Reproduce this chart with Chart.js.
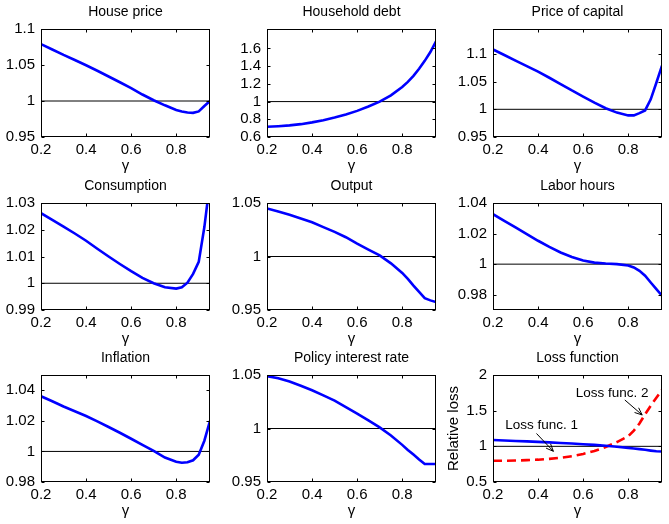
<!DOCTYPE html>
<html>
<head>
<meta charset="utf-8">
<script src="https://cdn.jsdelivr.net/npm/chart.js@4.4.0/dist/chart.umd.min.js"></script>
<style>
  html, body { margin: 0; padding: 0; background: #fff; }
  body { width: 669px; height: 524px; position: relative; overflow: hidden; }
  canvas { position: absolute; }
</style>
</head>
<body>
<script>
// gamma grid (x axis of every panel)
const gamma = [0.2, 0.25, 0.3, 0.35, 0.4, 0.45, 0.5, 0.55, 0.6, 0.65, 0.7, 0.75, 0.8, 0.825, 0.85, 0.875, 0.9, 0.925, 0.95];
const gammaTicks = [0.2, 0.4, 0.6, 0.8];

// relative responses
const housePrice    = [1.079, 1.0715, 1.064, 1.057, 1.0497, 1.042, 1.034, 1.026, 1.018, 1.009, 1.001, 0.994, 0.9875, 0.9855, 0.984, 0.9835, 0.9855, 0.993, 1.0];
const householdDebt = [0.715, 0.722, 0.731, 0.745, 0.765, 0.79, 0.82, 0.855, 0.895, 0.944, 1.0, 1.07, 1.165, 1.222, 1.29, 1.37, 1.46, 1.56, 1.68];
const priceCapital  = [1.108, 1.098, 1.088, 1.078, 1.068, 1.057, 1.0456, 1.034, 1.023, 1.012, 1.002, 0.994, 0.989, 0.989, 0.993, 0.998, 1.018, 1.048, 1.079];
const consumption   = [1.0262, 1.0237, 1.0212, 1.0186, 1.0159, 1.0129, 1.0100, 1.0072, 1.0045, 1.002, 1.0, 0.9985, 0.998, 0.9985, 1.0002, 1.0035, 1.008, 1.021, 1.038];
const output        = [1.0449, 1.042, 1.039, 1.0355, 1.032, 1.0275, 1.023, 1.018, 1.012, 1.0065, 1.001, 0.9936, 0.9846, 0.979, 0.9728, 0.967, 0.961, 0.959, 0.9574];
const laborHours    = [1.0327, 1.0283, 1.024, 1.0196, 1.0153, 1.0113, 1.0076, 1.0047, 1.0024, 1.001, 1.0004, 1.0, 0.9991, 0.9978, 0.9956, 0.9924, 0.988, 0.9837, 0.9793];
const inflation     = [1.0361, 1.0328, 1.0294, 1.0263, 1.0232, 1.0197, 1.016, 1.0122, 1.0083, 1.0043, 1.0004, 0.996, 0.9933, 0.9926, 0.9929, 0.9942, 0.9978, 1.007, 1.02];
const policyRate    = [1.049, 1.047, 1.044, 1.040, 1.0358, 1.031, 1.026, 1.020, 1.014, 1.0075, 1.001, 0.9935, 0.9847, 0.980, 0.9756, 0.971, 0.9668, 0.9668, 0.9668];
const lossFunc1     = [1.088, 1.082, 1.075, 1.069, 1.062, 1.055, 1.047, 1.039, 1.03, 1.02, 1.008, 0.994, 0.978, 0.97, 0.961, 0.951, 0.94, 0.93, 0.927];
const lossFunc2     = [0.797, 0.798, 0.801, 0.806, 0.813, 0.824, 0.84, 0.862, 0.893, 0.935, 0.99, 1.06, 1.14, 1.22, 1.32, 1.45, 1.57, 1.68, 1.79];

// y tick labels per panel
const housePriceTicks = [0.95, 1, 1.05, 1.1];
const debtTicks       = [0.6, 0.8, 1, 1.2, 1.4, 1.6];
const capitalTicks    = [0.95, 1, 1.05, 1.1];
const consTicks       = [0.99, 1, 1.01, 1.02, 1.03];
const outputTicks     = [0.95, 1, 1.05];
const laborTicks      = [0.98, 1, 1.02, 1.04];
const inflTicks       = [0.98, 1, 1.02, 1.04];
const rateTicks       = [0.95, 1, 1.05];
const lossTicks       = [0.5, 1, 1.5, 2];

// layout of the 3x3 grid (plot area corners in page pixels)
const colLeft = [41, 267, 493];
const rowTop = [29, 203, 375];
const rowH = [108, 107, 107];
const PLOT_W = 169;
const Y_AXIS_W = 48;
const X_AXIS_H = 38;
const TITLE_H = 29;
const PAD_R = 8;

const FONT = '"Liberation Sans", Arial, Helvetica, sans-serif';
Chart.defaults.font.family = FONT;
Chart.defaults.color = '#000';

const BLUE = 'rgb(0,0,255)';
const RED = 'rgb(255,0,0)';

const panels = [
  { title: 'House price', series: [housePrice], ticks: housePriceTicks, min: 0.95, max: 1.1, row: 0, col: 0 },
  { title: 'Household debt', series: [householdDebt], ticks: debtTicks, min: 0.6, max: 1.82, row: 0, col: 1 },
  { title: 'Price of capital', series: [priceCapital], ticks: capitalTicks, min: 0.95, max: 1.145, row: 0, col: 2 },
  { title: 'Consumption', series: [consumption], ticks: consTicks, min: 0.99, max: 1.03, row: 1, col: 0 },
  { title: 'Output', series: [output], ticks: outputTicks, min: 0.95, max: 1.05, row: 1, col: 1 },
  { title: 'Labor hours', series: [laborHours], ticks: laborTicks, min: 0.97, max: 1.04, row: 1, col: 2 },
  { title: 'Inflation', series: [inflation], ticks: inflTicks, min: 0.98, max: 1.05, row: 2, col: 0 },
  { title: 'Policy interest rate', series: [policyRate], ticks: rateTicks, min: 0.95, max: 1.05, row: 2, col: 1 },
  { title: 'Loss function', series: [lossFunc1, lossFunc2], ticks: lossTicks, min: 0.5, max: 2, row: 2, col: 2,
    ylabel: 'Relative loss',
    notes: [
      { text: 'Loss func. 1', at: [0.416, 1.29], from: [0.393, 1.18], to: [0.468, 0.93] },
      { text: 'Loss func. 2', at: [0.729, 1.75], from: [0.785, 1.65], to: [0.862, 1.44] }
    ] }
];

function fmt(v) {
  return String(+Number(v).toFixed(3));
}

function boxPlugin(p) {
  return {
    id: 'box',
    afterDatasetsDraw(chart) {
      const ctx = chart.ctx;
      const a = chart.chartArea;
      const xs = chart.scales.x, ys = chart.scales.y;
      const L = Math.round(a.left) + 0.5, R = Math.round(a.right) - 0.5;
      const T = Math.round(a.top) + 0.5, B = Math.round(a.bottom) - 0.5;
      ctx.save();
      ctx.strokeStyle = '#000';
      ctx.lineWidth = 1;
      ctx.strokeRect(L, T, R - L, B - T);
      const t = 3;
      ctx.beginPath();
      xs.ticks.forEach(tk => {
        const px = Math.round(xs.getPixelForValue(tk.value)) + 0.5;
        ctx.moveTo(px, B); ctx.lineTo(px, B - t);
        ctx.moveTo(px, T); ctx.lineTo(px, T + t);
      });
      ys.ticks.forEach(tk => {
        const py = Math.round(ys.getPixelForValue(tk.value)) + 0.5;
        ctx.moveTo(L, py); ctx.lineTo(L + t, py);
        ctx.moveTo(R, py); ctx.lineTo(R - t, py);
      });
      ctx.stroke();

      (p.notes || []).forEach(n => {
        ctx.fillStyle = '#000';
        ctx.font = '13.5px ' + FONT;
        ctx.textAlign = 'center';
        ctx.textBaseline = 'middle';
        ctx.fillText(n.text, xs.getPixelForValue(n.at[0]), ys.getPixelForValue(n.at[1]));
        const x1 = xs.getPixelForValue(n.from[0]), y1 = ys.getPixelForValue(n.from[1]);
        const x2 = xs.getPixelForValue(n.to[0]), y2 = ys.getPixelForValue(n.to[1]);
        ctx.beginPath();
        ctx.moveTo(x1, y1); ctx.lineTo(x2, y2);
        const ang = Math.atan2(y2 - y1, x2 - x1);
        const h = 8;
        ctx.moveTo(x2, y2); ctx.lineTo(x2 - h * Math.cos(ang - 0.4), y2 - h * Math.sin(ang - 0.4));
        ctx.moveTo(x2, y2); ctx.lineTo(x2 - h * Math.cos(ang + 0.4), y2 - h * Math.sin(ang + 0.4));
        ctx.stroke();
      });
      ctx.restore();
    }
  };
}

function makeChart(p) {
  const W = Y_AXIS_W + PLOT_W + PAD_R;
  const H = TITLE_H + rowH[p.row] + X_AXIS_H;
  const canvas = document.createElement('canvas');
  canvas.width = W;
  canvas.height = H;
  canvas.style.width = W + 'px';
  canvas.style.height = H + 'px';
  canvas.style.left = (colLeft[p.col] - Y_AXIS_W) + 'px';
  canvas.style.top = (rowTop[p.row] - TITLE_H) + 'px';
  document.body.appendChild(canvas);

  const colors = [BLUE, RED];
  const datasets = p.series.map((s, i) => ({
    data: gamma.map((g, k) => ({ x: g, y: s[k] })),
    borderColor: colors[i],
    borderWidth: 2.6,
    borderDash: i === 1 ? [9, 5] : [],
    pointRadius: 0,
    tension: 0
  }));
  // reference line at 1
  datasets.push({
    data: [{ x: gamma[0], y: 1 }, { x: gamma[gamma.length - 1], y: 1 }],
    borderColor: '#000',
    borderWidth: 1,
    pointRadius: 0
  });

  new Chart(canvas, {
    type: 'line',
    data: { datasets },
    options: {
      responsive: false,
      animation: false,
      devicePixelRatio: 1,
      layout: { padding: { left: 0, right: PAD_R, top: 0, bottom: 0 } },
      plugins: {
        legend: { display: false },
        tooltip: { enabled: false },
        title: {
          display: true,
          text: p.title,
          fullSize: false,
          color: '#000',
          font: { size: 14, weight: 'normal' },
          padding: { top: 4, bottom: 8.2 }
        }
      },
      scales: {
        x: {
          type: 'linear',
          min: 0.2,
          max: 0.95,
          grid: { display: false, drawTicks: false },
          border: { display: false },
          afterBuildTicks: s => { s.ticks = gammaTicks.map(v => ({ value: v })); },
          afterFit: s => { s.height = X_AXIS_H; },
          ticks: { color: '#000', font: { size: 15 }, padding: 3.5, maxRotation: 0, autoSkip: false, callback: fmt },
          title: { display: true, text: 'γ', color: '#000', font: { size: 15 }, padding: 0 }
        },
        y: {
          type: 'linear',
          min: p.min,
          max: p.max,
          grid: { display: false, drawTicks: false },
          border: { display: false },
          afterBuildTicks: s => { s.ticks = p.ticks.map(v => ({ value: v })); },
          afterFit: s => { s.width = Y_AXIS_W; },
          ticks: { color: '#000', font: { size: 15 }, padding: 6, autoSkip: false, callback: fmt },
          title: { display: !!p.ylabel, text: p.ylabel || '', color: '#000', font: { size: 15 }, padding: 0 }
        }
      }
    },
    plugins: [boxPlugin(p)]
  });
}

panels.forEach(makeChart);
</script>
</body>
</html>
